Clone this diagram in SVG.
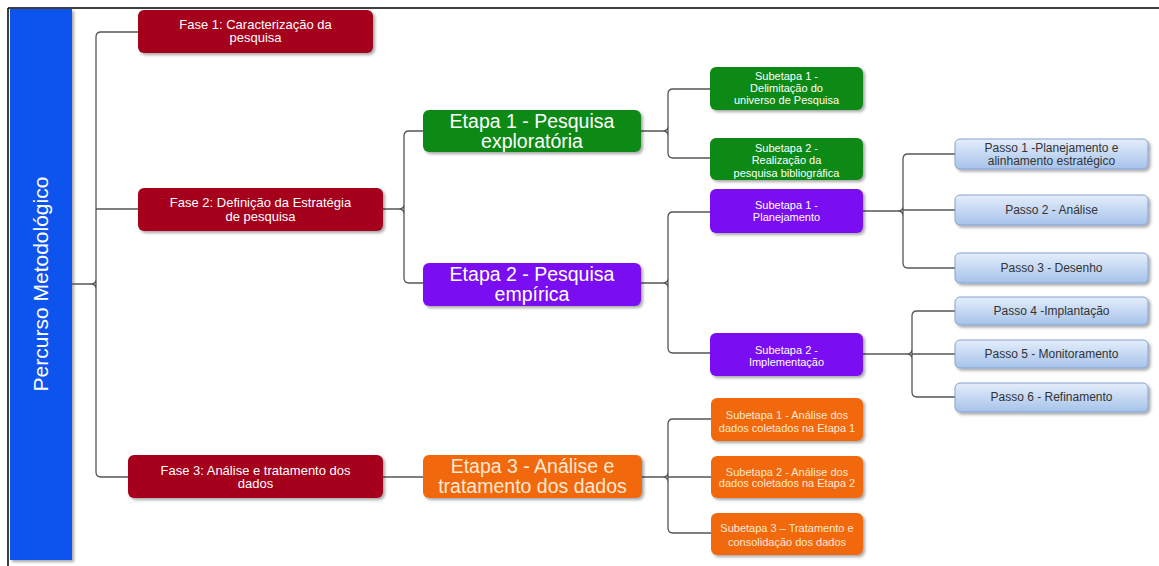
<svg xmlns="http://www.w3.org/2000/svg" width="1159" height="566" viewBox="0 0 1159 566">
<defs>
<filter id="sh" x="-10%" y="-20%" width="130%" height="150%">
<feDropShadow dx="2" dy="2" stdDeviation="1.6" flood-color="#000" flood-opacity="0.35"/>
</filter>
<linearGradient id="gb" x1="0" y1="0" x2="0" y2="1">
<stop offset="0" stop-color="#e4eefb"/>
<stop offset="1" stop-color="#a6c2ea"/>
</linearGradient>
</defs>
<style>
text{font-family:"Liberation Sans",Arial,sans-serif;text-anchor:middle}
.fase rect{fill:#a5001f;filter:url(#sh)}
.fase text{fill:#fff;font-size:13px}
.et text{fill:#fff;font-size:19.5px}
.sub text{fill:#fff;font-size:11px}
.g rect{fill:#0c8a17;filter:url(#sh)}
.p rect{fill:#7a0ff2;filter:url(#sh)}
.o rect{fill:#f2680c;filter:url(#sh)}
.o text{fill:#fde9d2}
.et.o text{fill:#fde9d2}
.passo rect{fill:url(#gb);stroke:#86a3cf;stroke-width:1;filter:url(#sh)}
.passo text{fill:#333;font-size:12px}
#connectors path{fill:none;stroke:#555;stroke-width:1.3}
</style>
<rect width="1159" height="566" fill="#fff"/>
<path d="M8,8 H1159 M8,8 V566" stroke="#000" stroke-width="1.5" fill="none"/>

<g id="root">
<rect x="10" y="9" width="62" height="551" fill="#0a52ee" filter="url(#sh)"/>
<text transform="translate(48,284) rotate(-90)" fill="#fff" font-size="21">Percurso Metodológico</text>
</g>

<g id="connectors">
<path d="M72,284 H91 Q96,284 96,279 M91,284 Q96,284 96,289 M138,32 H101 Q96,32 96,37 V472 Q96,477 101,477 H128 M96,209 H138"/>
<path d="M383,209 H399 Q404,209 404,204 M399,209 Q404,209 404,214 M423,131 H409 Q404,131 404,136 V278 Q404,283 409,283 H423"/>
<path d="M383,477 H423"/>
<path d="M641,131 H663 Q668,131 668,126 M663,131 Q668,131 668,136 M710,89 H673 Q668,89 668,94 V153 Q668,158 673,158 H710"/>
<path d="M641,283 H663 Q668,283 668,278 M663,283 Q668,283 668,288 M710,212 H673 Q668,212 668,217 V348 Q668,353 673,353 H710"/>
<path d="M642,477 H663 Q668,477 668,472 M663,477 Q668,477 668,482 M711,419 H673 Q668,419 668,424 V528 Q668,533 673,533 H711 M668,477 H711"/>
<path d="M863,211 H898 Q903,211 903,206 M898,211 Q903,211 903,216 M955,154 H908 Q903,154 903,159 V263 Q903,268 908,268 H955 M903,210 H955"/>
<path d="M863,354 H907 Q912,354 912,349 M907,354 Q912,354 912,359 M955,311 H917 Q912,311 912,316 V392 Q912,397 917,397 H955 M912,354 H955"/>
</g>

<g id="fase1" class="fase"><rect x="138" y="10" width="235" height="43" rx="6"/><text x="255.5" y="29">Fase 1: Caracterização da</text><text x="255.5" y="42">pesquisa</text></g>
<g id="fase2" class="fase"><rect x="138" y="188" width="245" height="43" rx="6"/><text x="260.5" y="207">Fase 2: Definição da Estratégia</text><text x="260.5" y="221">de pesquisa</text></g>
<g id="fase3" class="fase"><rect x="128" y="455" width="255" height="43" rx="6"/><text x="255.5" y="475">Fase 3: Análise e tratamento dos</text><text x="255.5" y="488">dados</text></g>

<g id="etapa1" class="et g"><rect x="423" y="110" width="218" height="42" rx="6"/><text x="532" y="128">Etapa 1 - Pesquisa</text><text x="532" y="148">exploratória</text></g>
<g id="etapa2" class="et p"><rect x="423" y="263" width="218" height="43" rx="6"/><text x="532" y="281">Etapa 2 - Pesquisa</text><text x="532" y="301">empírica</text></g>
<g id="etapa3" class="et o"><rect x="423" y="455" width="219" height="43" rx="6"/><text x="532.5" y="473">Etapa 3 - Análise e</text><text x="532.5" y="493">tratamento dos dados</text></g>

<g id="sub1g" class="sub g"><rect x="710" y="67" width="153" height="43" rx="6"/><text x="786.5" y="80">Subetapa 1 -</text><text x="786.5" y="92">Delimitação do</text><text x="786.5" y="104">universo de Pesquisa</text></g>
<g id="sub2g" class="sub g"><rect x="710" y="138" width="153" height="42" rx="6"/><text x="786.5" y="152">Subetapa 2 -</text><text x="786.5" y="164">Realização da</text><text x="786.5" y="177">pesquisa bibliográfica</text></g>
<g id="sub1p" class="sub p"><rect x="710" y="189" width="153" height="44" rx="6"/><text x="786.5" y="209">Subetapa 1 -</text><text x="786.5" y="221">Planejamento</text></g>
<g id="sub2p" class="sub p"><rect x="710" y="333" width="153" height="43" rx="6"/><text x="786.5" y="354">Subetapa 2 -</text><text x="786.5" y="366">Implementação</text></g>
<g id="sub1o" class="sub o"><rect x="711" y="398" width="152" height="43" rx="6"/><text x="787" y="419">Subetapa 1 - Análise dos</text><text x="787" y="432">dados coletados na Etapa 1</text></g>
<g id="sub2o" class="sub o"><rect x="711" y="456" width="152" height="42" rx="6"/><text x="787" y="476">Subetapa 2 - Análise dos</text><text x="787" y="487">dados coletados na Etapa 2</text></g>
<g id="sub3o" class="sub o"><rect x="711" y="513" width="152" height="42" rx="6"/><text x="787" y="532">Subetapa 3 – Tratamento e</text><text x="787" y="546">consolidação dos dados</text></g>

<g id="passo1" class="passo"><rect x="955" y="139" width="193" height="30" rx="5"/><text x="1051.5" y="152">Passo 1 -Planejamento e</text><text x="1051.5" y="165">alinhamento estratégico</text></g>
<g id="passo2" class="passo"><rect x="955" y="195" width="193" height="30" rx="5"/><text x="1051.5" y="214">Passo 2 -  Análise</text></g>
<g id="passo3" class="passo"><rect x="955" y="253" width="193" height="30" rx="5"/><text x="1051.5" y="272">Passo 3 - Desenho</text></g>
<g id="passo4" class="passo"><rect x="955" y="297" width="193" height="28" rx="5"/><text x="1051.5" y="315">Passo 4 -Implantação</text></g>
<g id="passo5" class="passo"><rect x="955" y="340" width="193" height="28" rx="5"/><text x="1051.5" y="358">Passo 5 - Monitoramento</text></g>
<g id="passo6" class="passo"><rect x="955" y="383" width="193" height="29" rx="5"/><text x="1051.5" y="401">Passo 6 - Refinamento</text></g>
</svg>
